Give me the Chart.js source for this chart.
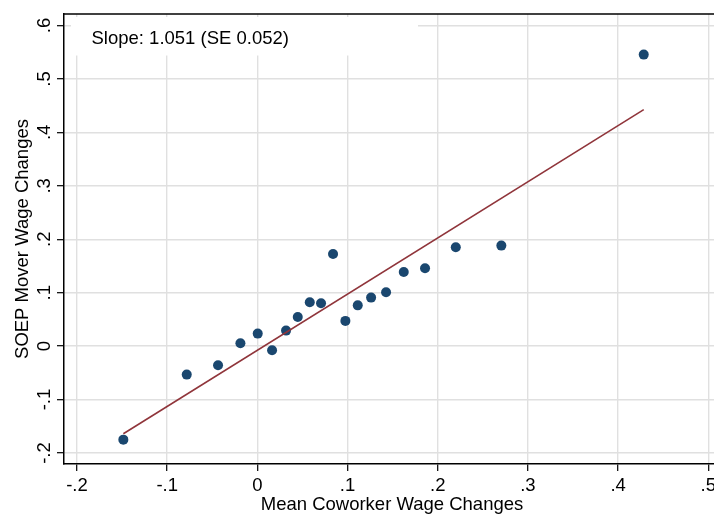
<!DOCTYPE html>
<html>
<head>
<meta charset="utf-8">
<title>SOEP mover wage changes</title>
<script src="https://cdn.jsdelivr.net/npm/chart.js@4.4.1/dist/chart.umd.min.js"></script>
<style>
    html, body { margin: 0; padding: 0; background: #fff; overflow: hidden; }
    #chart { display: block; }
</style>
</head>
<body>
<canvas id="chart" width="714" height="514"></canvas>
<script>
// Datos (binscatter)
const coworkerChange = [-0.1486, -0.0783, -0.0436, -0.0188, 0.0004, 0.0163, 0.0318, 0.0448, 0.0581, 0.0706,
    0.0839, 0.0976, 0.1113, 0.1261, 0.1427, 0.1623, 0.1859, 0.2200, 0.2705, 0.4284];
const moverChange = [-0.175, -0.0533, -0.0359, 0.0052, 0.0234, -0.0079, 0.029, 0.0546, 0.082, 0.0801,
    0.1725, 0.0472, 0.0763, 0.0908, 0.1007, 0.1388, 0.1456, 0.1849, 0.1881, 0.5455];

// Recta ajustada (extremos)
const fitX = [-0.1486, 0.4284];
const fitY = [-0.164, 0.4425];

// Ticks
const xTicks = [-0.2, -0.1, 0, 0.1, 0.2, 0.3, 0.4, 0.5];
const xTickLabels = ['-.2', '-.1', '0', '.1', '.2', '.3', '.4', '.5'];
const yTicks = [-0.2, -0.1, 0, 0.1, 0.2, 0.3, 0.4, 0.5, 0.6];
const yTickLabels = ['-.2', '-.1', '0', '.1', '.2', '.3', '.4', '.5', '.6'];

const xTitle = 'Mean Coworker Wage Changes';
const yTitle = 'SOEP Mover Wage Changes';
const note = 'Slope: 1.051 (SE 0.052)';

const COLORS = {
    marker: '#1a476f',
    fit: '#90353b',
    grid: '#e0e0e0',
    axis: '#000000',
    text: '#000000'
};
const FONT = "18.5px 'Liberation Sans', Arial, sans-serif";

// Textos, ejes rotados y recuadro de la pendiente
const annotations = {
    id: 'annotations',
    beforeDatasetsDraw(chart) {
        const ctx = chart.ctx;
        const area = chart.chartArea;
        ctx.save();
        // recuadro blanco detras del texto
        ctx.fillStyle = '#ffffff';
        ctx.fillRect(area.left + 7, area.top + 3, 347, 38.5);
        ctx.fillStyle = COLORS.text;
        ctx.font = FONT;
        ctx.textAlign = 'left';
        ctx.textBaseline = 'alphabetic';
        ctx.fillText(note, 91.5, 43.5);
        ctx.restore();
    },
    afterDraw(chart) {
        const ctx = chart.ctx;
        const area = chart.chartArea;
        const xs = chart.scales.x;
        const ys = chart.scales.y;
        ctx.save();

        // borde superior
        ctx.strokeStyle = COLORS.axis;
        ctx.lineWidth = 1.5;
        ctx.beginPath();
        ctx.moveTo(area.left - 0.75, area.top);
        ctx.lineTo(chart.width, area.top);
        ctx.stroke();

        ctx.fillStyle = COLORS.text;
        ctx.font = FONT;
        ctx.textBaseline = 'alphabetic';
        ctx.textAlign = 'center';

        // etiquetas eje x
        xTicks.forEach((v, i) => {
            ctx.fillText(xTickLabels[i], xs.getPixelForValue(v), 491);
        });
        ctx.fillText(xTitle, 392, 509.5);

        // etiquetas eje y (rotadas)
        yTicks.forEach((v, i) => {
            ctx.save();
            ctx.translate(49.5, ys.getPixelForValue(v));
            ctx.rotate(-Math.PI / 2);
            ctx.fillText(yTickLabels[i], 0, 0);
            ctx.restore();
        });
        ctx.save();
        ctx.translate(28, (area.top + area.bottom) / 2);
        ctx.rotate(-Math.PI / 2);
        ctx.fillText(yTitle, 0, 0);
        ctx.restore();

        ctx.restore();
    }
};

function fixedTicks(values) {
    return function(scale) {
        scale.ticks = values.map(v => ({ value: v }));
    };
}

new Chart(document.getElementById('chart'), {
    type: 'scatter',
    data: {
        datasets: [
            {
                type: 'line',
                label: 'Fitted',
                data: fitX.map((x, i) => ({ x: x, y: fitY[i] })),
                borderColor: COLORS.fit,
                borderWidth: 1.6,
                pointRadius: 0,
                fill: false,
                tension: 0
            },
            {
                label: 'Bins',
                data: coworkerChange.map((x, i) => ({ x: x, y: moverChange[i] })),
                backgroundColor: COLORS.marker,
                borderColor: COLORS.marker,
                borderWidth: 0,
                pointRadius: 5,
                pointHoverRadius: 5
            }
        ]
    },
    options: {
        responsive: false,
        animation: false,
        events: [],
        layout: {
            autoPadding: false,
            padding: { top: 14, left: 0, right: 0, bottom: 0 }
        },
        plugins: {
            legend: { display: false },
            tooltip: { enabled: false }
        },
        scales: {
            x: {
                type: 'linear',
                min: -0.2144,
                max: 0.5063,
                afterBuildTicks: fixedTicks(xTicks),
                afterFit: function(scale) { scale.height = 50; },
                ticks: { display: false },
                grid: {
                    color: COLORS.grid,
                    lineWidth: 1.4,
                    drawTicks: true,
                    tickLength: 7,
                    tickColor: COLORS.axis,
                    tickWidth: 1.2
                },
                border: { display: true, color: COLORS.axis, width: 1.5 }
            },
            y: {
                type: 'linear',
                min: -0.2206,
                max: 0.6215,
                afterBuildTicks: fixedTicks(yTicks),
                afterFit: function(scale) { scale.width = 64; },
                ticks: { display: false },
                grid: {
                    color: COLORS.grid,
                    lineWidth: 1.4,
                    drawTicks: true,
                    tickLength: 7,
                    tickColor: COLORS.axis,
                    tickWidth: 1.2
                },
                border: { display: true, color: COLORS.axis, width: 1.5 }
            }
        }
    },
    plugins: [annotations]
});
</script>
</body>
</html>
